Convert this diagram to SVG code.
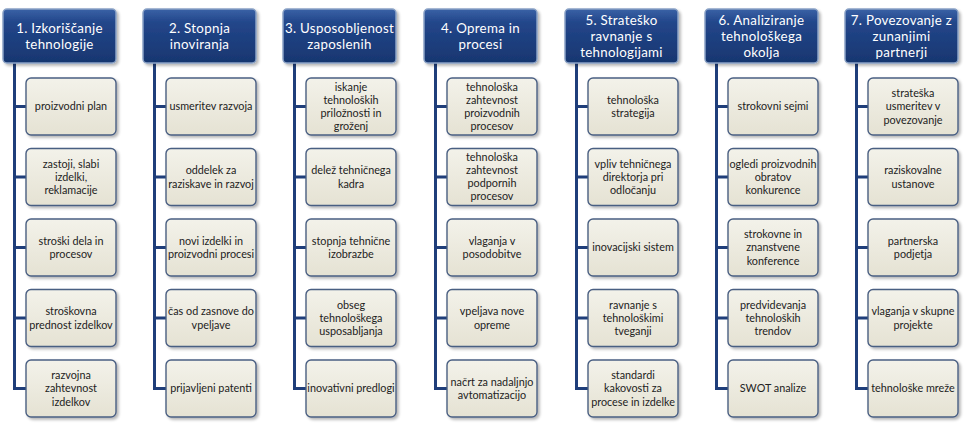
<svg xmlns="http://www.w3.org/2000/svg" width="970" height="432" viewBox="0 0 970 432">
<defs>
<linearGradient id="hg" x1="0" y1="0" x2="0" y2="1">
<stop offset="0" stop-color="#3a62a6"/>
<stop offset="0.25" stop-color="#22468a"/>
<stop offset="1" stop-color="#183670"/>
</linearGradient>
<linearGradient id="cg" x1="0" y1="0" x2="0" y2="1">
<stop offset="0" stop-color="#f3f2ea"/>
<stop offset="1" stop-color="#e5e2d3"/>
</linearGradient>
<filter id="sh" x="-10%" y="-10%" width="130%" height="130%">
<feGaussianBlur in="SourceAlpha" stdDeviation="1.5"/>
<feOffset dx="1.5" dy="2" result="b"/>
<feComponentTransfer><feFuncA type="linear" slope="0.3"/></feComponentTransfer>
<feMerge><feMergeNode/><feMergeNode in="SourceGraphic"/></feMerge>
</filter>
</defs>
<style>
.h rect{fill:url(#hg);stroke:#8aa2c6;stroke-width:1.5}
.h text{font-family:Lato,"Open Sans",sans-serif;font-size:13.3px;letter-spacing:0.3px;fill:#ffffff;text-anchor:middle}
.c rect{fill:url(#cg);stroke:#4a5f82;stroke-width:1.4}
.c text{font-family:Lato,"Open Sans",sans-serif;font-size:10.8px;fill:#222222;text-anchor:middle}
.con path{fill:none;stroke:#1f3e7a;stroke-width:3}
</style>
<rect width="970" height="432" fill="#ffffff"/>

<g id="connectors" class="con">
<path d="M14.5 63 V389 M14.5 106.5 H26 M14.5 177 H26 M14.5 247.5 H26 M14.5 318 H26 M13 388.5 H26"/>
<path d="M154.5 63 V389 M154.5 106.5 H166 M154.5 177 H166 M154.5 247.5 H166 M154.5 318 H166 M153 388.5 H166"/>
<path d="M294.5 63 V389 M294.5 106.5 H306 M294.5 177 H306 M294.5 247.5 H306 M294.5 318 H306 M293 388.5 H306"/>
<path d="M435.5 63 V389 M435.5 106.5 H447 M435.5 177 H447 M435.5 247.5 H447 M435.5 318 H447 M434 388.5 H447"/>
<path d="M576.5 63 V389 M576.5 106.5 H588 M576.5 177 H588 M576.5 247.5 H588 M576.5 318 H588 M575 388.5 H588"/>
<path d="M716.5 63 V389 M716.5 106.5 H728 M716.5 177 H728 M716.5 247.5 H728 M716.5 318 H728 M715 388.5 H728"/>
<path d="M856.5 63 V389 M856.5 106.5 H868 M856.5 177 H868 M856.5 247.5 H868 M856.5 318 H868 M855 388.5 H868"/>
</g>

<!-- Column 1 -->
<g id="h1" class="h"><rect x="3" y="9" width="113" height="54" rx="4" filter="url(#sh)"/>
<text x="59.5" y="32.5">1. Izkoriščanje</text><text x="59.5" y="48.5">tehnologije</text></g>
<g id="c1-1" class="c"><rect x="26" y="78" width="90" height="57" rx="5" filter="url(#sh)"/><text x="71" y="110.4">proizvodni plan</text></g>
<g id="c1-2" class="c"><rect x="26" y="148.5" width="90" height="57" rx="5" filter="url(#sh)"/><text x="71" y="167.5">zastoji, slabi<tspan x="71" dy="13.3">izdelki,</tspan><tspan x="71" dy="13.3">reklamacije</tspan></text></g>
<g id="c1-3" class="c"><rect x="26" y="219" width="90" height="57" rx="5" filter="url(#sh)"/><text x="71" y="244.7">stroški dela in<tspan x="71" dy="13.3">procesov</tspan></text></g>
<g id="c1-4" class="c"><rect x="26" y="289.5" width="90" height="57" rx="5" filter="url(#sh)"/><text x="71" y="315.2">stroškovna<tspan x="71" dy="13.3">prednost izdelkov</tspan></text></g>
<g id="c1-5" class="c"><rect x="26" y="360" width="90" height="57" rx="5" filter="url(#sh)"/><text x="71" y="379">razvojna<tspan x="71" dy="13.3">zahtevnost</tspan><tspan x="71" dy="13.3">izdelkov</tspan></text></g>

<!-- Column 2 -->
<g id="h2" class="h"><rect x="143" y="9" width="113" height="54" rx="4" filter="url(#sh)"/>
<text x="199.5" y="32.5">2. Stopnja</text><text x="199.5" y="48.5">inoviranja</text></g>
<g id="c2-1" class="c"><rect x="166" y="78" width="90" height="57" rx="5" filter="url(#sh)"/><text x="211" y="110.4">usmeritev razvoja</text></g>
<g id="c2-2" class="c"><rect x="166" y="148.5" width="90" height="57" rx="5" filter="url(#sh)"/><text x="211" y="174.2">oddelek za<tspan x="211" dy="13.3">raziskave in razvoj</tspan></text></g>
<g id="c2-3" class="c"><rect x="166" y="219" width="90" height="57" rx="5" filter="url(#sh)"/><text x="211" y="244.7">novi izdelki in<tspan x="211" dy="13.3">proizvodni procesi</tspan></text></g>
<g id="c2-4" class="c"><rect x="166" y="289.5" width="90" height="57" rx="5" filter="url(#sh)"/><text x="211" y="315.2">čas od zasnove do<tspan x="211" dy="13.3">vpeljave</tspan></text></g>
<g id="c2-5" class="c"><rect x="166" y="360" width="90" height="57" rx="5" filter="url(#sh)"/><text x="211" y="392.4">prijavljeni patenti</text></g>

<!-- Column 3 -->
<g id="h3" class="h"><rect x="283" y="9" width="113" height="54" rx="4" filter="url(#sh)"/>
<text x="339.5" y="32.5">3. Usposobljenost</text><text x="339.5" y="48.5">zaposlenih</text></g>
<g id="c3-1" class="c"><rect x="306" y="78" width="90" height="57" rx="5" filter="url(#sh)"/><text x="351" y="90.8">iskanje<tspan x="351" dy="13">tehnoloških</tspan><tspan x="351" dy="13">priložnosti in</tspan><tspan x="351" dy="13">groženj</tspan></text></g>
<g id="c3-2" class="c"><rect x="306" y="148.5" width="90" height="57" rx="5" filter="url(#sh)"/><text x="351" y="174.2">delež tehničnega<tspan x="351" dy="13.3">kadra</tspan></text></g>
<g id="c3-3" class="c"><rect x="306" y="219" width="90" height="57" rx="5" filter="url(#sh)"/><text x="351" y="244.7">stopnja tehnične<tspan x="351" dy="13.3">izobrazbe</tspan></text></g>
<g id="c3-4" class="c"><rect x="306" y="289.5" width="90" height="57" rx="5" filter="url(#sh)"/><text x="351" y="308.5">obseg<tspan x="351" dy="13.3">tehnološkega</tspan><tspan x="351" dy="13.3">usposabljanja</tspan></text></g>
<g id="c3-5" class="c"><rect x="306" y="360" width="90" height="57" rx="5" filter="url(#sh)"/><text x="351" y="392.4">inovativni predlogi</text></g>

<!-- Column 4 -->
<g id="h4" class="h"><rect x="424" y="9" width="113" height="54" rx="4" filter="url(#sh)"/>
<text x="480.5" y="32.5">4. Oprema in</text><text x="480.5" y="48.5">procesi</text></g>
<g id="c4-1" class="c"><rect x="447" y="78" width="90" height="57" rx="5" filter="url(#sh)"/><text x="492" y="90.8">tehnološka<tspan x="492" dy="13">zahtevnost</tspan><tspan x="492" dy="13">proizvodnih</tspan><tspan x="492" dy="13">procesov</tspan></text></g>
<g id="c4-2" class="c"><rect x="447" y="148.5" width="90" height="57" rx="5" filter="url(#sh)"/><text x="492" y="161.3">tehnološka<tspan x="492" dy="13">zahtevnost</tspan><tspan x="492" dy="13">podpornih</tspan><tspan x="492" dy="13">procesov</tspan></text></g>
<g id="c4-3" class="c"><rect x="447" y="219" width="90" height="57" rx="5" filter="url(#sh)"/><text x="492" y="244.7">vlaganja v<tspan x="492" dy="13.3">posodobitve</tspan></text></g>
<g id="c4-4" class="c"><rect x="447" y="289.5" width="90" height="57" rx="5" filter="url(#sh)"/><text x="492" y="315.2">vpeljava nove<tspan x="492" dy="13.3">opreme</tspan></text></g>
<g id="c4-5" class="c"><rect x="447" y="360" width="90" height="57" rx="5" filter="url(#sh)"/><text x="492" y="385.7">načrt za nadaljnjo<tspan x="492" dy="13.3">avtomatizacijo</tspan></text></g>

<!-- Column 5 -->
<g id="h5" class="h"><rect x="565" y="9" width="113" height="54" rx="4" filter="url(#sh)"/>
<text x="621.5" y="24.5">5. Strateško</text><text x="621.5" y="40.5">ravnanje s</text><text x="621.5" y="56.5">tehnologijami</text></g>
<g id="c5-1" class="c"><rect x="588" y="78" width="90" height="57" rx="5" filter="url(#sh)"/><text x="633" y="103.7">tehnološka<tspan x="633" dy="13.3">strategija</tspan></text></g>
<g id="c5-2" class="c"><rect x="588" y="148.5" width="90" height="57" rx="5" filter="url(#sh)"/><text x="633" y="167.5">vpliv tehničnega<tspan x="633" dy="13.3">direktorja pri</tspan><tspan x="633" dy="13.3">odločanju</tspan></text></g>
<g id="c5-3" class="c"><rect x="588" y="219" width="90" height="57" rx="5" filter="url(#sh)"/><text x="633" y="251.4">inovacijski sistem</text></g>
<g id="c5-4" class="c"><rect x="588" y="289.5" width="90" height="57" rx="5" filter="url(#sh)"/><text x="633" y="308.5">ravnanje s<tspan x="633" dy="13.3">tehnološkimi</tspan><tspan x="633" dy="13.3">tveganji</tspan></text></g>
<g id="c5-5" class="c"><rect x="588" y="360" width="90" height="57" rx="5" filter="url(#sh)"/><text x="633" y="379">standardi<tspan x="633" dy="13.3">kakovosti za</tspan><tspan x="633" dy="13.3">procese in izdelke</tspan></text></g>

<!-- Column 6 -->
<g id="h6" class="h"><rect x="705" y="9" width="113" height="54" rx="4" filter="url(#sh)"/>
<text x="761.5" y="24.5">6. Analiziranje</text><text x="761.5" y="40.5">tehnološkega</text><text x="761.5" y="56.5">okolja</text></g>
<g id="c6-1" class="c"><rect x="728" y="78" width="90" height="57" rx="5" filter="url(#sh)"/><text x="773" y="110.4">strokovni sejmi</text></g>
<g id="c6-2" class="c"><rect x="728" y="148.5" width="90" height="57" rx="5" filter="url(#sh)"/><text x="773" y="167.5">ogledi proizvodnih<tspan x="773" dy="13.3">obratov</tspan><tspan x="773" dy="13.3">konkurence</tspan></text></g>
<g id="c6-3" class="c"><rect x="728" y="219" width="90" height="57" rx="5" filter="url(#sh)"/><text x="773" y="238">strokovne in<tspan x="773" dy="13.3">znanstvene</tspan><tspan x="773" dy="13.3">konference</tspan></text></g>
<g id="c6-4" class="c"><rect x="728" y="289.5" width="90" height="57" rx="5" filter="url(#sh)"/><text x="773" y="308.5">predvidevanja<tspan x="773" dy="13.3">tehnoloških</tspan><tspan x="773" dy="13.3">trendov</tspan></text></g>
<g id="c6-5" class="c"><rect x="728" y="360" width="90" height="57" rx="5" filter="url(#sh)"/><text x="773" y="392.4">SWOT analize</text></g>

<!-- Column 7 -->
<g id="h7" class="h"><rect x="845" y="9" width="113" height="54" rx="4" filter="url(#sh)"/>
<text x="901.5" y="24.5">7. Povezovanje z</text><text x="901.5" y="40.5">zunanjimi</text><text x="901.5" y="56.5">partnerji</text></g>
<g id="c7-1" class="c"><rect x="868" y="78" width="90" height="57" rx="5" filter="url(#sh)"/><text x="913" y="97">strateška<tspan x="913" dy="13.3">usmeritev v</tspan><tspan x="913" dy="13.3">povezovanje</tspan></text></g>
<g id="c7-2" class="c"><rect x="868" y="148.5" width="90" height="57" rx="5" filter="url(#sh)"/><text x="913" y="174.2">raziskovalne<tspan x="913" dy="13.3">ustanove</tspan></text></g>
<g id="c7-3" class="c"><rect x="868" y="219" width="90" height="57" rx="5" filter="url(#sh)"/><text x="913" y="244.7">partnerska<tspan x="913" dy="13.3">podjetja</tspan></text></g>
<g id="c7-4" class="c"><rect x="868" y="289.5" width="90" height="57" rx="5" filter="url(#sh)"/><text x="913" y="315.2">vlaganja v skupne<tspan x="913" dy="13.3">projekte</tspan></text></g>
<g id="c7-5" class="c"><rect x="868" y="360" width="90" height="57" rx="5" filter="url(#sh)"/><text x="913" y="392.4">tehnološke mreže</text></g>
</svg>
